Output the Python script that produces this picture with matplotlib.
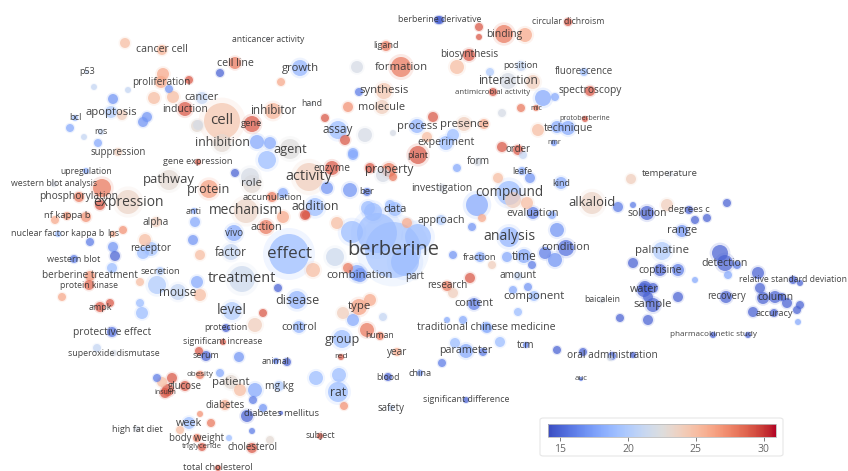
import numpy as np
import matplotlib.pyplot as plt
from matplotlib import cm, colors
from matplotlib.patches import FancyBboxPatch

plt.rcParams['font.family'] = ['Open Sans', 'DejaVu Sans']

# labelled terms (position in map pixels, bubble radius, avg. year score, label size in px)
terms = [
    'berberine', 'effect', 'activity', 'treatment', 'cell', 'analysis', 'compound', 'alkaloid', 'mechanism', 'expression',
    'pathway', 'protein', 'role', 'inhibition', 'inhibitor', 'agent', 'apoptosis', 'cancer cell', 'proliferation', 'cancer',
    'induction', 'cell line', 'growth', 'anticancer activity', 'p53', 'bcl', 'ros', 'suppression', 'gene', 'gene expression',
    'upregulation', 'western blot analysis', 'phosphorylation', 'nf kappa b', 'nuclear factor kappa b', 'lps', 'alpha', 'anti', 'vivo', 'action',
    'factor', 'receptor', 'western blot', 'secretion', 'berberine treatment', 'protein kinase', 'mouse', 'disease', 'level', 'ampk',
    'protective effect', 'superoxide dismutase', 'protection', 'significant increase', 'serum', 'control', 'animal', 'group', 'human', 'red',
    'year', 'traditional chinese medicine', 'parameter', 'tcm', 'oral administration', 'auc', 'pharmacokinetic study', 'blood', 'china', 'significant difference',
    'safety', 'subject', 'rat', 'mg kg', 'patient', 'obesity', 'glucose', 'insulin', 'diabetes', 'diabetes mellitus',
    'week', 'high fat diet', 'body weight', 'triglyceride', 'cholesterol', 'total cholesterol', 'combination', 'part', 'research', 'content',
    'component', 'amount', 'fraction', 'time', 'condition', 'evaluation', 'approach', 'data', 'investigation', 'addition',
    'accumulation', 'enzyme', 'property', 'ber', 'form', 'leafe', 'kind', 'plant', 'experiment', 'order',
    'nmr', 'technique', 'protoberberine', 'process', 'presence', 'assay', 'mic', 'antimicrobial activity', 'interaction', 'position',
    'fluorescence', 'spectroscopy', 'biosynthesis', 'binding', 'berberine derivative', 'circular dichroism', 'ligand', 'formation', 'synthesis', 'molecule',
    'hand', 'temperature', 'solution', 'degrees c', 'range', 'palmatine', 'coptisine', 'detection', 'water', 'sample',
    'baicalein', 'recovery', 'column', 'relative standard deviation', 'accuracy', 'type',
]
term_x = [
    393, 289, 309, 242, 222, 509, 509, 592, 246, 128,
    169, 209, 252, 222, 273, 290, 111, 162, 161, 202,
    185, 235, 300, 268, 87, 75, 101, 118, 252, 198,
    86, 54, 79, 67, 58, 113, 156, 194, 234, 266,
    231, 151, 74, 160, 90, 89, 178, 297, 232, 100,
    112, 114, 226, 223, 206, 299, 276, 342, 380, 341,
    397, 486, 466, 526, 612, 581, 713, 388, 420, 466,
    391, 320, 338, 279, 231, 200, 185, 165, 225, 281,
    189, 137, 197, 202, 252, 218, 360, 415, 447, 474,
    534, 518, 480, 524, 566, 533, 441, 395, 442, 315,
    272, 332, 389, 367, 478, 522, 561, 418, 446, 518,
    554, 568, 585, 417, 464, 338, 536, 493, 508, 521,
    584, 590, 469, 504, 440, 568, 386, 401, 384, 382,
    312, 670, 647, 689, 682, 662, 660, 725, 644, 653,
    602, 726, 775, 793, 774, 359,
]
term_y = [
    250, 254, 177, 279, 121, 237, 193, 203, 211, 202,
    180, 189, 184, 143, 111, 149, 112, 50, 82, 98,
    109, 63, 68, 39, 72, 118, 132, 152, 124, 162,
    171, 184, 197, 216, 234, 234, 222, 211, 233, 227,
    252, 249, 259, 271, 276, 285, 292, 300, 311, 307,
    332, 353, 328, 342, 356, 327, 361, 339, 336, 357,
    352, 327, 351, 345, 356, 379, 335, 377, 373, 400,
    408, 436, 392, 386, 382, 375, 386, 393, 405, 413,
    423, 429, 438, 447, 448, 468, 275, 277, 286, 304,
    296, 276, 257, 256, 248, 213, 220, 209, 188, 207,
    197, 168, 170, 192, 162, 171, 183, 155, 143, 150,
    143, 128, 119, 126, 124, 130, 108, 92, 81, 66,
    72, 91, 55, 34, 20, 22, 46, 67, 91, 107,
    104, 174, 213, 210, 231, 251, 270, 263, 290, 305,
    300, 297, 297, 280, 313, 307,
]
term_r = [
    28, 20, 14, 13, 18, 10, 12, 11, 12, 12,
    10, 9, 9, 9, 8, 10, 6, 5, 6, 6,
    7, 6, 8, 2, 2, 3, 3, 4, 8, 3,
    3, 3, 5, 4, 3, 3, 5, 3, 8, 7,
    8, 7, 4, 4, 5, 5, 8, 9, 9, 5,
    5, 3, 4, 3, 5, 6, 3, 9, 4, 3,
    4, 5, 7, 3, 4, 2, 3, 4, 3, 3,
    3, 3, 10, 5, 7, 4, 5, 5, 5, 2,
    6, 3, 4, 4, 5, 3, 7, 3, 5, 6,
    5, 4, 5, 7, 8, 6, 5, 7, 4, 9,
    5, 7, 7, 4, 4, 4, 6, 9, 7, 5,
    3, 7, 3, 7, 7, 9, 3, 4, 8, 5,
    4, 5, 6, 9, 4, 4, 5, 10, 8, 7,
    2, 3, 7, 4, 6, 9, 6, 8, 7, 7,
    3, 6, 6, 4, 4, 8,
]
term_score = [
    19.5, 19, 24, 21.5, 24.5, 18.5, 19, 23.5, 23.5, 23.5,
    23, 26.5, 23, 23, 25.5, 22.5, 20, 25.5, 26, 21,
    29, 28, 18.5, 22, 21, 19, 21, 24, 29, 29,
    18, 22, 28, 27, 19, 26, 24, 18, 18, 28,
    21, 19.5, 16, 20, 27, 28.5, 21, 18.5, 20, 29,
    15.5, 22, 15, 29, 15, 18.5, 16, 19, 28, 29,
    26, 18.5, 18, 16, 15.5, 16, 15, 15, 17, 15,
    21, 29, 19, 20, 23, 28, 29, 29, 26, 15,
    19, 22, 28, 29, 29, 29, 17, 22, 28, 16,
    19, 21, 18, 18, 15.5, 16, 20, 19, 22, 19,
    28, 29, 28, 16, 22, 18, 18, 29, 19, 29,
    17, 18, 29, 18.5, 24, 19, 28, 29, 22, 21,
    19, 29, 29, 28, 15, 29, 28, 28, 24.5, 24,
    22, 22, 15, 15, 17, 20, 15, 15, 15, 15,
    22, 15, 15, 15, 15, 26.5,
]
term_font = [
    20, 17, 14.4, 14.5, 15, 14, 13.5, 13, 13.8, 13.9,
    13, 12.6, 11.5, 12.4, 11.8, 12.7, 11.2, 10.5, 10, 11,
    10.4, 10.6, 11.2, 8.7, 9, 9.4, 9, 9.6, 9.5, 9.2,
    8.7, 8.8, 10.3, 9.5, 8.9, 9, 10, 9, 9.9, 11,
    11.6, 10.3, 9.1, 9.3, 10, 8.7, 11.7, 12.5, 14, 9,
    10.2, 8.9, 8.9, 8.9, 9, 10.8, 8.8, 12.6, 8.7, 8.5,
    10, 10.5, 10.8, 10, 10.1, 7.9, 8.1, 8.7, 9.3, 8.9,
    9.7, 8.8, 12.2, 10.3, 11.2, 8, 9.7, 7, 9.8, 9.5,
    10.7, 9.2, 9.6, 7.8, 9.7, 9.3, 11.2, 9.8, 9.9, 10.9,
    11.4, 10.1, 9.4, 11.9, 11, 10.7, 10.8, 11.2, 10.3, 12.2,
    9.5, 10.1, 12, 9.5, 10.1, 8.8, 8.9, 8.8, 10.6, 9.7,
    7, 10.5, 7, 11.1, 11.3, 11.8, 7.2, 7.8, 11.9, 9.3,
    9.8, 10.3, 10, 10.2, 8.9, 8.7, 9.1, 11.4, 11.2, 11,
    8.8, 9.5, 10.4, 9.4, 11.2, 11.5, 10.2, 10.5, 10.9, 11.2,
    8.7, 9.7, 10.3, 8.7, 9.3, 11.5,
]

# unlabelled terms
extra_x = [
    125, 163, 189, 94, 128, 113, 154, 173, 169, 147,
    143, 122, 70, 84, 98, 197, 220, 281, 257, 357,
    457, 490, 479, 479, 525, 438, 533, 543, 555, 359,
    348, 325, 345, 365, 393, 433, 427, 453, 484, 502,
    521, 502, 523, 538, 557, 353, 198, 270, 235, 267,
    327, 350, 353, 370, 383, 393, 305, 283, 407, 283,
    306, 337, 373, 335, 313, 348, 357, 377, 418, 405,
    352, 278, 263, 255, 370, 383, 367, 102, 100, 86,
    55, 90, 113, 115, 123, 145, 195, 193, 200, 112,
    140, 157, 197, 200, 62, 110, 140, 250, 143, 142,
    97, 199, 239, 287, 157, 162, 172, 220, 168, 240,
    255, 253, 247, 263, 211, 200, 180, 229, 252, 270,
    343, 353, 316, 339, 344, 442, 455, 483, 487, 447,
    463, 500, 518, 557, 648, 583, 633, 610, 748, 798,
    753, 797, 631, 618, 633, 667, 695, 707, 727, 720,
    737, 728, 695, 758, 760, 800, 633, 678, 645, 653,
    648, 678, 763, 782, 787, 800, 620, 457, 498, 530,
    477, 513, 527, 482, 472, 552, 557, 545, 555, 507,
    492, 453, 470, 532, 528, 453, 513, 368, 390,
]
extra_y = [
    43, 74, 80, 87, 90, 99, 98, 97, 89, 117,
    122, 115, 128, 137, 143, 126, 73, 82, 142, 67,
    67, 72, 27, 37, 35, 20, 82, 98, 97, 92,
    107, 118, 140, 135, 133, 117, 137, 135, 124, 113,
    108, 147, 155, 130, 127, 153, 125, 143, 173, 160,
    188, 190, 155, 168, 175, 177, 215, 193, 223, 217,
    215, 223, 212, 257, 270, 268, 273, 233, 237, 262,
    232, 288, 313, 325, 300, 317, 330, 188, 205, 217,
    220, 242, 247, 256, 230, 240, 222, 240, 255, 268,
    282, 285, 282, 295, 297, 303, 303, 177, 253, 313,
    348, 351, 357, 362, 378, 382, 378, 373, 390, 390,
    390, 400, 416, 408, 423, 414, 430, 438, 431, 440,
    313, 320, 378, 375, 406, 363, 343, 352, 328, 320,
    320, 342, 312, 350, 320, 352, 355, 358, 335, 322,
    312, 310, 179, 207, 205, 205, 220, 218, 203, 253,
    265, 275, 280, 273, 288, 283, 263, 270, 287, 288,
    297, 297, 298, 297, 303, 305, 318, 168, 178, 178,
    205, 200, 203, 218, 227, 215, 230, 253, 260, 257,
    265, 255, 278, 265, 287, 293, 290, 208, 205,
]
extra_r = [
    5, 6, 4, 3, 3, 5, 6, 6, 4, 5,
    5, 5, 4, 3, 4, 6, 4, 4, 7, 6,
    7, 4, 4, 3, 7, 4, 7, 8, 4, 4,
    5, 4, 5, 7, 3, 5, 5, 6, 5, 4,
    4, 5, 4, 6, 6, 5, 5, 6, 4, 9,
    6, 7, 5, 5, 7, 4, 5, 5, 5, 6,
    4, 6, 9, 9, 7, 5, 8, 20, 13, 14,
    11, 4, 4, 7, 6, 4, 7, 9, 5, 5,
    4, 4, 5, 5, 4, 6, 5, 5, 5, 5,
    4, 9, 6, 6, 4, 4, 4, 9, 6, 6,
    4, 4, 5, 4, 4, 5, 5, 4, 6, 6,
    7, 4, 6, 4, 4, 3, 4, 3, 3, 4,
    6, 6, 7, 7, 4, 4, 5, 4, 5, 3,
    4, 5, 4, 4, 5, 4, 3, 3, 3, 3,
    5, 4, 5, 5, 3, 6, 4, 4, 4, 8,
    4, 4, 3, 6, 5, 3, 5, 6, 6, 5,
    5, 5, 6, 4, 5, 4, 4, 4, 5, 5,
    11, 8, 6, 4, 4, 4, 7, 6, 7, 5,
    4, 4, 5, 4, 4, 5, 4, 7, 5,
]
extra_score = [
    25, 26, 29, 21, 21, 17, 25, 25, 17, 17,
    17, 24, 18, 21, 18, 23, 15, 26, 18, 22,
    25, 20, 29, 29, 26, 15, 24, 18, 18, 16,
    27, 29, 29, 22, 22, 29, 25, 19, 26, 22,
    28, 29, 21, 25, 18, 18, 22, 18, 15, 19,
    17, 17, 18, 29, 22, 28, 29, 18, 26, 26,
    29, 25, 19, 21.5, 25, 28, 18, 19, 19, 19,
    19, 15, 29, 24, 26, 21, 28, 28, 29, 27,
    26, 16, 17, 15, 27, 25, 18, 17, 25, 19,
    25, 20, 18, 25, 26, 29, 19, 22, 19, 19,
    21, 29, 17, 15, 16, 25, 29, 18, 29, 25,
    18, 16, 15, 17, 28, 27, 25, 19, 16, 23,
    24, 18, 19, 19, 27, 16, 19, 16, 18, 18,
    18, 19, 19, 15, 15, 15, 15, 22, 15, 18,
    15, 15, 24, 16, 16, 24, 15, 15, 15, 15,
    16, 18, 18, 15, 15, 15, 15, 16, 15, 15,
    15, 15, 15, 15, 15, 15, 15, 18, 25, 17,
    18, 24, 25, 26, 17, 18, 17, 16, 17, 18,
    24, 17, 29, 16, 17, 24, 18, 19, 19,
]

cbar_ticks = [15, 20, 25, 30]
score_min, score_max = 14.1, 30.9

W, H = 848, 471
fig = plt.figure(figsize=(W / 100, H / 100), dpi=100)
ax = fig.add_axes([0, 0, 1, 1])
ax.set_xlim(0, W)
ax.set_ylim(H, 0)
ax.axis('off')

cmap = plt.get_cmap('coolwarm')
norm = colors.Normalize(vmin=score_min, vmax=score_max)

bx = np.array(term_x + extra_x, dtype=float)
by = np.array(term_y + extra_y, dtype=float)
br = np.array(term_r + extra_r, dtype=float)
bs = np.array(term_score + extra_score, dtype=float)
order = np.argsort(-br)
px2pt = 72 / 100

# soft halo then the bubble itself
ax.scatter(bx[order], by[order], s=(2 * br[order] * 1.3 * px2pt) ** 2, c=bs[order],
           cmap=cmap, norm=norm, alpha=0.15, linewidths=0, zorder=1)
ax.scatter(bx[order], by[order], s=(2 * br[order] * px2pt) ** 2, c=bs[order],
           cmap=cmap, norm=norm, alpha=0.7, linewidths=0, zorder=2)

for t, x, y, f in zip(terms, term_x, term_y, term_font):
    ax.text(x, y, t, fontsize=f * px2pt, ha='center', va='center',
            color='#2b2b2b', alpha=0.88, zorder=3)

# colour legend
box = FancyBboxPatch((540 / W, 1 - 456 / H), 243 / W, 38 / H,
                     boxstyle='round,pad=0,rounding_size=0.004',
                     transform=fig.transFigure, facecolor='white',
                     edgecolor='#e6e6e6', linewidth=0.8, zorder=1)
fig.patches.append(box)
cax = fig.add_axes([548 / W, 1 - 437 / H, 228 / W, 13 / H])
cax.set_zorder(3)
cb = fig.colorbar(cm.ScalarMappable(norm=norm, cmap=cmap), cax=cax, orientation='horizontal')
cb.set_ticks(cbar_ticks)
cb.outline.set_edgecolor('#bbbbbb')
cb.outline.set_linewidth(0.6)
cax.tick_params(labelsize=7.5, colors='#666666', length=3, width=0.6, pad=2)

fig.savefig('out.png', dpi=100)
